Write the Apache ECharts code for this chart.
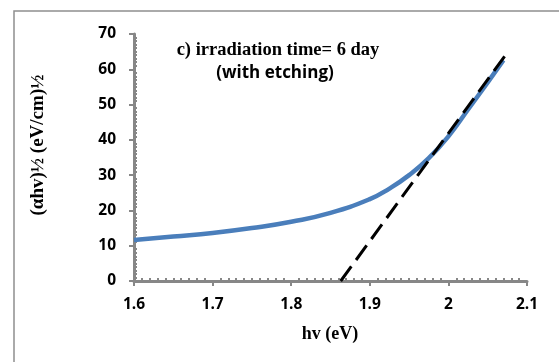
<!DOCTYPE html>
<html><head><meta charset="utf-8">
<script src="https://cdn.jsdelivr.net/npm/echarts@6/dist/echarts.min.js"></script>
<style>html,body{margin:0;padding:0;background:#fff}#c{width:559px;height:362px}</style>
</head><body><div id="c"></div>
<script>
var hv = [1.6, 1.65, 1.7, 1.75, 1.8, 1.85, 1.9, 1.925, 1.95, 1.975, 2.0, 2.025, 2.05, 2.07];
var ahv = [11.6, 12.6, 13.6, 15.0, 16.8, 19.3, 23.2, 26.2, 30.0, 34.8, 41.0, 48.6, 56.3, 62.6];
var fitX = [1.863, 2.072];
var fitY = [0, 63.8];
var xTicks = [1.6, 1.7, 1.8, 1.9, 2.0, 2.1];
var yTicks = [0, 10, 20, 30, 40, 50, 60, 70];
var titleLines = ['c) irradiation time= 6 day', '(with etching)'];
var xName = 'hv (eV)';
var yName = '(αhv)½ (eV/cm)½';

var axisGray = '#878787';
var chart = echarts.init(document.getElementById('c'), null, {renderer: 'canvas'});
function pairs(xs, ys){ return xs.map(function(x,i){ return [x, ys[i]]; }); }
var labelFont = {color:'#000', fontFamily:'Open Sans', fontWeight:'bold', fontSize:15.5};
chart.setOption({
  animation: false,
  backgroundColor: '#fff',
  grid: {left:134, right:32, top:34, bottom:81},
  xAxis: [{
    type:'value', min:xTicks[0], max:xTicks[xTicks.length-1], interval:0.1,
    axisLine:{show:true, onZero:false, lineStyle:{color:axisGray, width:3}},
    axisTick:{show:true, length:5, lineStyle:{color:axisGray, width:2}},
    minorTick:{show:false},
    splitLine:{show:false},
    axisLabel:Object.assign({margin:16, formatter:function(v){return String(Math.round(v*10)/10);}}, labelFont)
  },{
    type:'value', min:xTicks[0], max:xTicks[xTicks.length-1], interval:0.1, position:'bottom',
    axisLine:{show:false}, axisLabel:{show:false}, splitLine:{show:false},
    axisTick:{show:false, inside:true},
    minorTick:{show:true, splitNumber:10, length:3, lineStyle:{color:axisGray, width:2}}
  }],
  yAxis: [{
    type:'value', min:yTicks[0], max:yTicks[yTicks.length-1], interval:10,
    axisLine:{show:true, onZero:false, lineStyle:{color:axisGray, width:3}},
    axisTick:{show:true, length:5, lineStyle:{color:axisGray, width:2}},
    splitLine:{show:false},
    axisLabel:Object.assign({margin:18}, labelFont)
  },{
    type:'value', min:yTicks[0], max:yTicks[yTicks.length-1], interval:10, position:'left',
    axisLine:{show:false}, axisLabel:{show:false}, splitLine:{show:false},
    axisTick:{show:false, inside:true},
    minorTick:{show:true, splitNumber:10, length:3, lineStyle:{color:axisGray, width:2}}
  }],
  series: [{
    type:'line', data:pairs(hv, ahv), smooth:true, symbol:'none',
    lineStyle:{color:'#4a7ebb', width:4.5}, z:2
  },{
    type:'line', data:pairs(fitX, fitY), symbol:'none',
    lineStyle:{color:'#000', width:3, type:[18,8]}, z:3
  }],
  graphic: [
    {type:'rect', shape:{x:14, y:11, width:600, height:400}, style:{fill:'none', stroke:'#8f8f8f', lineWidth:1.5}, silent:true},
    {type:'text', x:278, y:50, style:{text:titleLines[0], fontFamily:'Liberation Serif', fontWeight:'bold', fontSize:18.5, fill:'#000', textAlign:'center', textVerticalAlign:'middle'}},
    {type:'text', x:275, y:73, style:{text:titleLines[1], fontFamily:'Open Sans', fontWeight:'bold', fontSize:17, fill:'#000', textAlign:'center', textVerticalAlign:'middle'}},
    {type:'text', x:330, y:334, style:{text:xName, fontFamily:'Liberation Serif', fontWeight:'bold', fontSize:18, fill:'#000', textAlign:'center', textVerticalAlign:'middle'}},
    {type:'text', x:38, y:145, rotation:Math.PI/2, style:{text:yName, fontFamily:'Liberation Serif', fontWeight:'bold', fontSize:19, fill:'#000', textAlign:'center', textVerticalAlign:'middle'}}
  ]
});
</script></body></html>
